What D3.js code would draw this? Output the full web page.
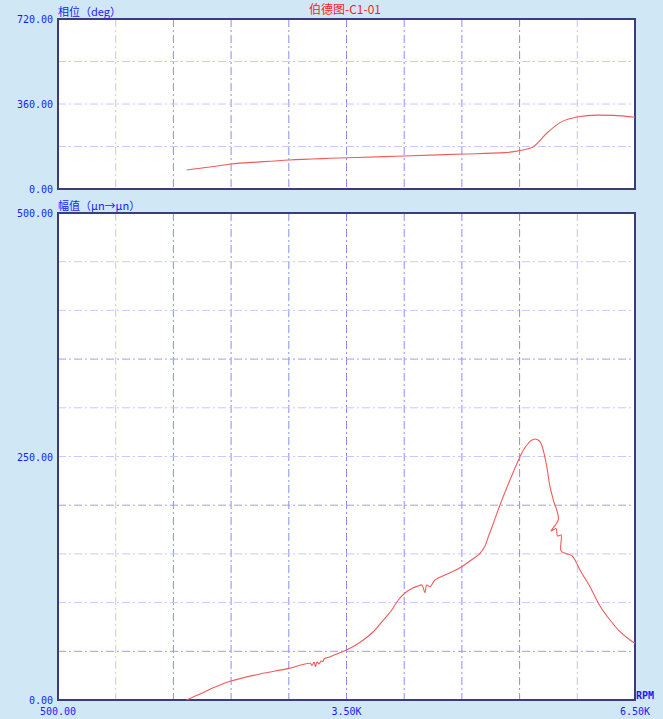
<!DOCTYPE html>
<html>
<head>
<meta charset="utf-8">
<script src="https://cdn.jsdelivr.net/npm/d3@7"></script>
<style>
  body { margin: 0; background: #d0e8f6; }
  svg { display: block; }
</style>
</head>
<body>
<div id="chart"></div>
<script>
// Bode plot C1-01: phase (top) and amplitude (bottom) against RPM
const title = "伯德图-C1-01";
const phaseLabel = "相位（deg）";
const magLabel = "幅值（μn→μn）";

const phaseRpm = [1838, 2081, 2299, 2600, 2902, 3329, 3900, 4098, 4701, 5148, 5304, 5443, 5582, 5720, 5911, 6102, 6275, 6500];
const phaseDeg = [80.5, 93, 106, 115, 123, 130, 137, 140, 148, 154, 163, 179, 236, 281, 306, 313, 312, 304];

const magRpm = [1838, 1977, 2133, 2299, 2601, 2902, 3121, 3141, 3162, 3178, 3193, 3214, 3235, 3256, 3266, 3329,
  3498, 3589, 3675, 3776, 3883, 3963, 4039, 4109, 4195, 4244, 4282, 4316, 4334, 4368, 4396, 4420,
  4524, 4628, 4698, 4784, 4888, 4940, 4975, 5013, 5096, 5200, 5304, 5346, 5391, 5419, 5460, 5492,
  5512, 5533, 5554, 5585, 5616, 5651, 5703, 5627, 5679, 5694, 5731, 5731, 5783, 5848, 5887, 5928,
  6032, 6136, 6240, 6344, 6448, 6500];
const magVal = [0, 6.2, 13.3, 19.5, 26.7, 32.5, 37.7, 35.4, 39.0, 34.2, 39.0, 37.0, 40.0, 39.5, 42.1, 44.5,
  51.3, 56.0, 61.6, 69.8, 82.1, 91.4, 102.7, 109.9, 115.3, 117.0, 118.1, 110.2, 118.1, 116.3, 119.8, 123.2,
  128.3, 133.0, 136.9, 142.7, 150.6, 158.1, 167.7, 177.6, 200.2, 225.9, 249.8, 257.7, 263.6, 266.4, 268.0, 266.9,
  265.2, 260.8, 253.3, 238.2, 219.0, 205.3, 185.5, 173.5, 176.1, 168.4, 169.4, 153.0, 150.4, 147.8, 141.7, 133.5,
  116.3, 96.5, 82.1, 70.1, 61.6, 58.2];

const xTickValues = [500, 3500, 6500];
const xTickLabels = ["500.00", "3.50K", "6.50K"];
const phaseTicks = [0, 360, 720];
const magTicks = [0, 250, 500];

const width = 663, height = 719;
const left = 58, right = 635;
const blue = "#1a1aff";
const mono = "'DejaVu Sans Mono', monospace";
const cjk = "'Noto Sans CJK SC', sans-serif";

const svg = d3.select("#chart").append("svg")
  .attr("width", width)
  .attr("height", height);

const x = d3.scaleLinear().domain([500, 6500]).range([left, right]);
const yPhase = d3.scaleLinear().domain([0, 720]).range([189, 19]);
const yMag = d3.scaleLinear().domain([0, 500]).range([700, 213]);

// vertical grid every 600 RPM
const xGrid = d3.range(1100, 6500, 600);

function drawPanel(y, hGrid, darkH, ticks, label) {
  const [y0, y1] = y.range();
  const g = svg.append("g");

  g.append("rect")
    .attr("x", left).attr("y", y1)
    .attr("width", right - left).attr("height", y0 - y1)
    .attr("fill", "#fff");

  g.selectAll(".vg").data(xGrid).enter().append("line")
    .attr("x1", d => x(d)).attr("x2", d => x(d))
    .attr("y1", y1).attr("y2", y0)
    .attr("stroke", (d, i) => (i === 0 || i === xGrid.length - 1) ? "#c4c4ff" : "#8c8cff")
    .attr("stroke-dasharray", "8,3,2,3");

  g.selectAll(".hg").data(hGrid).enter().append("line")
    .attr("x1", left).attr("x2", right)
    .attr("y1", d => y(d)).attr("y2", d => y(d))
    .attr("stroke", d => darkH.includes(d) ? "#9c9cff" : "#c8c8ff")
    .attr("stroke-dasharray", "8,3,2,3");

  g.append("rect")
    .attr("x", left).attr("y", y1)
    .attr("width", right - left).attr("height", y0 - y1)
    .attr("fill", "none")
    .attr("stroke", "#3c3c7a")
    .attr("stroke-width", 2);

  g.selectAll(".yt").data(ticks).enter().append("text")
    .attr("x", 53).attr("y", d => y(d) + 4)
    .attr("text-anchor", "end")
    .attr("font-family", mono).attr("font-size", 10)
    .attr("fill", blue)
    .text(d => d3.format(".2f")(d));

  g.append("text")
    .attr("x", left).attr("y", y1 - 3)
    .attr("font-family", cjk).attr("font-size", 11)
    .attr("fill", blue)
    .text(label);
}

drawPanel(yPhase, [180, 360, 540], [], phaseTicks, phaseLabel);
drawPanel(yMag, d3.range(50, 500, 50), [50, 200, 350], magTicks, magLabel);

// curves
svg.append("path")
  .datum(d3.zip(phaseRpm, phaseDeg))
  .attr("fill", "none")
  .attr("stroke", "#f25a5a")
  .attr("stroke-width", 1.1)
  .attr("d", d3.line().x(d => x(d[0])).y(d => yPhase(d[1])).curve(d3.curveMonotoneX));

svg.append("path")
  .datum(d3.zip(magRpm, magVal))
  .attr("fill", "none")
  .attr("stroke", "#f25a5a")
  .attr("stroke-width", 1.1)
  .attr("d", d3.line().x(d => x(d[0])).y(d => yMag(d[1])).curve(d3.curveCatmullRom.alpha(0.5)));

// x axis labels
svg.selectAll(".xt").data(xTickValues).enter().append("text")
  .attr("x", d => x(d)).attr("y", 715)
  .attr("text-anchor", "middle")
  .attr("font-family", mono).attr("font-size", 10)
  .attr("fill", blue)
  .text((d, i) => xTickLabels[i]);

svg.append("text")
  .attr("x", 636).attr("y", 699)
  .attr("font-family", mono).attr("font-size", 10)
  .attr("font-weight", "bold")
  .attr("fill", blue)
  .text("RPM");

svg.append("text")
  .attr("x", 345).attr("y", 14)
  .attr("text-anchor", "middle")
  .attr("font-family", cjk).attr("font-size", 12)
  .attr("fill", "#ff1a1a")
  .text(title);
</script>
</body>
</html>
